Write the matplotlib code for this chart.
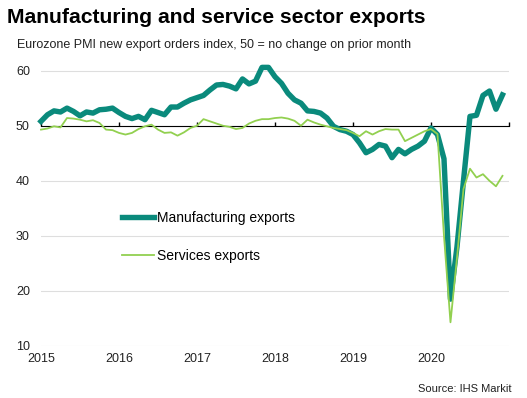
import numpy as np
import matplotlib
matplotlib.use('Agg')
import matplotlib.pyplot as plt

plt.rcParams['font.family'] = ['Liberation Sans', 'DejaVu Sans']

# monthly, Jan 2015 - Dec 2020
manufacturing = [
    50.8, 52.0, 52.7, 52.5, 53.2, 52.6, 51.8, 52.5, 52.3, 52.9, 53.0, 53.2,
    52.4, 51.7, 51.3, 51.7, 51.1, 52.8, 52.4, 52.0, 53.4, 53.4, 54.1, 54.7,
    55.1, 55.5, 56.5, 57.4, 57.5, 57.2, 56.7, 58.5, 57.6, 58.1, 60.6, 60.6,
    58.9, 57.7, 55.9, 54.7, 54.1, 52.7, 52.6, 52.3, 51.4, 49.9, 49.3, 49.0,
    48.4, 46.9, 45.1, 45.7, 46.6, 46.3, 44.2, 45.7, 44.9, 45.7, 46.3, 47.2,
    49.6, 48.4, 44.0, 18.5, 28.0, 40.0, 51.7, 51.9, 55.5, 56.3, 53.0, 55.6,
]
services = [
    49.3, 49.5, 49.9, 49.7, 51.4, 51.3, 51.1, 50.8, 51.0, 50.5, 49.3, 49.2,
    48.7, 48.4, 48.7, 49.4, 49.9, 50.2, 49.3, 48.7, 48.8, 48.2, 48.8, 49.6,
    50.0, 51.2, 50.8, 50.4, 50.0, 49.8, 49.4, 49.6, 50.4, 50.9, 51.2, 51.2,
    51.4, 51.5, 51.3, 50.9, 50.0, 51.1, 50.6, 50.2, 49.9, 49.6, 49.4, 49.2,
    48.7, 48.1, 49.0, 48.4, 49.0, 49.4, 49.3, 49.3, 47.2, 47.8, 48.4, 49.0,
    49.4, 48.5, 30.0, 14.3, 26.0, 38.5, 42.2, 40.6, 41.2, 40.0, 39.0, 40.9,
]
years = ['2015', '2016', '2017', '2018', '2019', '2020']
yticks = [10, 20, 30, 40, 50, 60]

months = np.arange(len(manufacturing))

fig = plt.figure(figsize=(5.27, 3.98), dpi=100)
ax = fig.add_axes([0.0778, 0.1307, 0.888, 0.6917 * 52 / 50])

ax.set_xlim(0, 72)
ax.set_ylim(10, 62)
ax.set_yticks(yticks)
ax.set_xticks(np.arange(0, 72, 12))
ax.set_xticklabels(years)
ax.grid(axis='y', color='#dedede', lw=0.8)
ax.set_axisbelow(True)
for s in ax.spines.values():
    s.set_visible(False)
ax.tick_params(axis='both', length=0, labelsize=9, colors='#222222')
ax.tick_params(axis='y', pad=8)
ax.tick_params(axis='x', pad=5)

# black line at 50 with small year ticks
sec = ax.secondary_xaxis((50 - 10) / (62 - 10))
sec.spines['bottom'].set_color('black')
sec.spines['bottom'].set_linewidth(1.5)
sec.set_xticks(np.arange(0, 73, 12), labels=[''] * 7)
sec.tick_params(axis='x', length=3, width=1, direction='out', color='black')
sec.set_zorder(2)

ax.plot(months, manufacturing, color='#0a8a7c', lw=3.9, solid_joinstyle='round',
        label='Manufacturing exports', zorder=3, clip_on=False)
ax.plot(months, services, color='#92d050', lw=1.3, label='Services exports', zorder=4,
        clip_on=False)

ax.legend(loc='upper left', bbox_to_anchor=(0.2315, 0.47), bbox_transform=fig.transFigure,
          frameon=False, fontsize=10, handlelength=2.3, handletextpad=0.2,
          labelspacing=1.75, borderpad=0, borderaxespad=0)

fig.text(0.013, 0.957, 'Manufacturing and service sector exports', fontsize=15.2,
         fontweight='bold', va='center', ha='left')
fig.text(0.032, 0.887, 'Eurozone PMI new export orders index, 50 = no change on prior month',
         fontsize=9, va='center', ha='left', color='#222222')
fig.text(0.97, 0.022, 'Source: IHS Markit', fontsize=8, va='center', ha='right', color='#222222')

fig.savefig('out.png', dpi=100)
